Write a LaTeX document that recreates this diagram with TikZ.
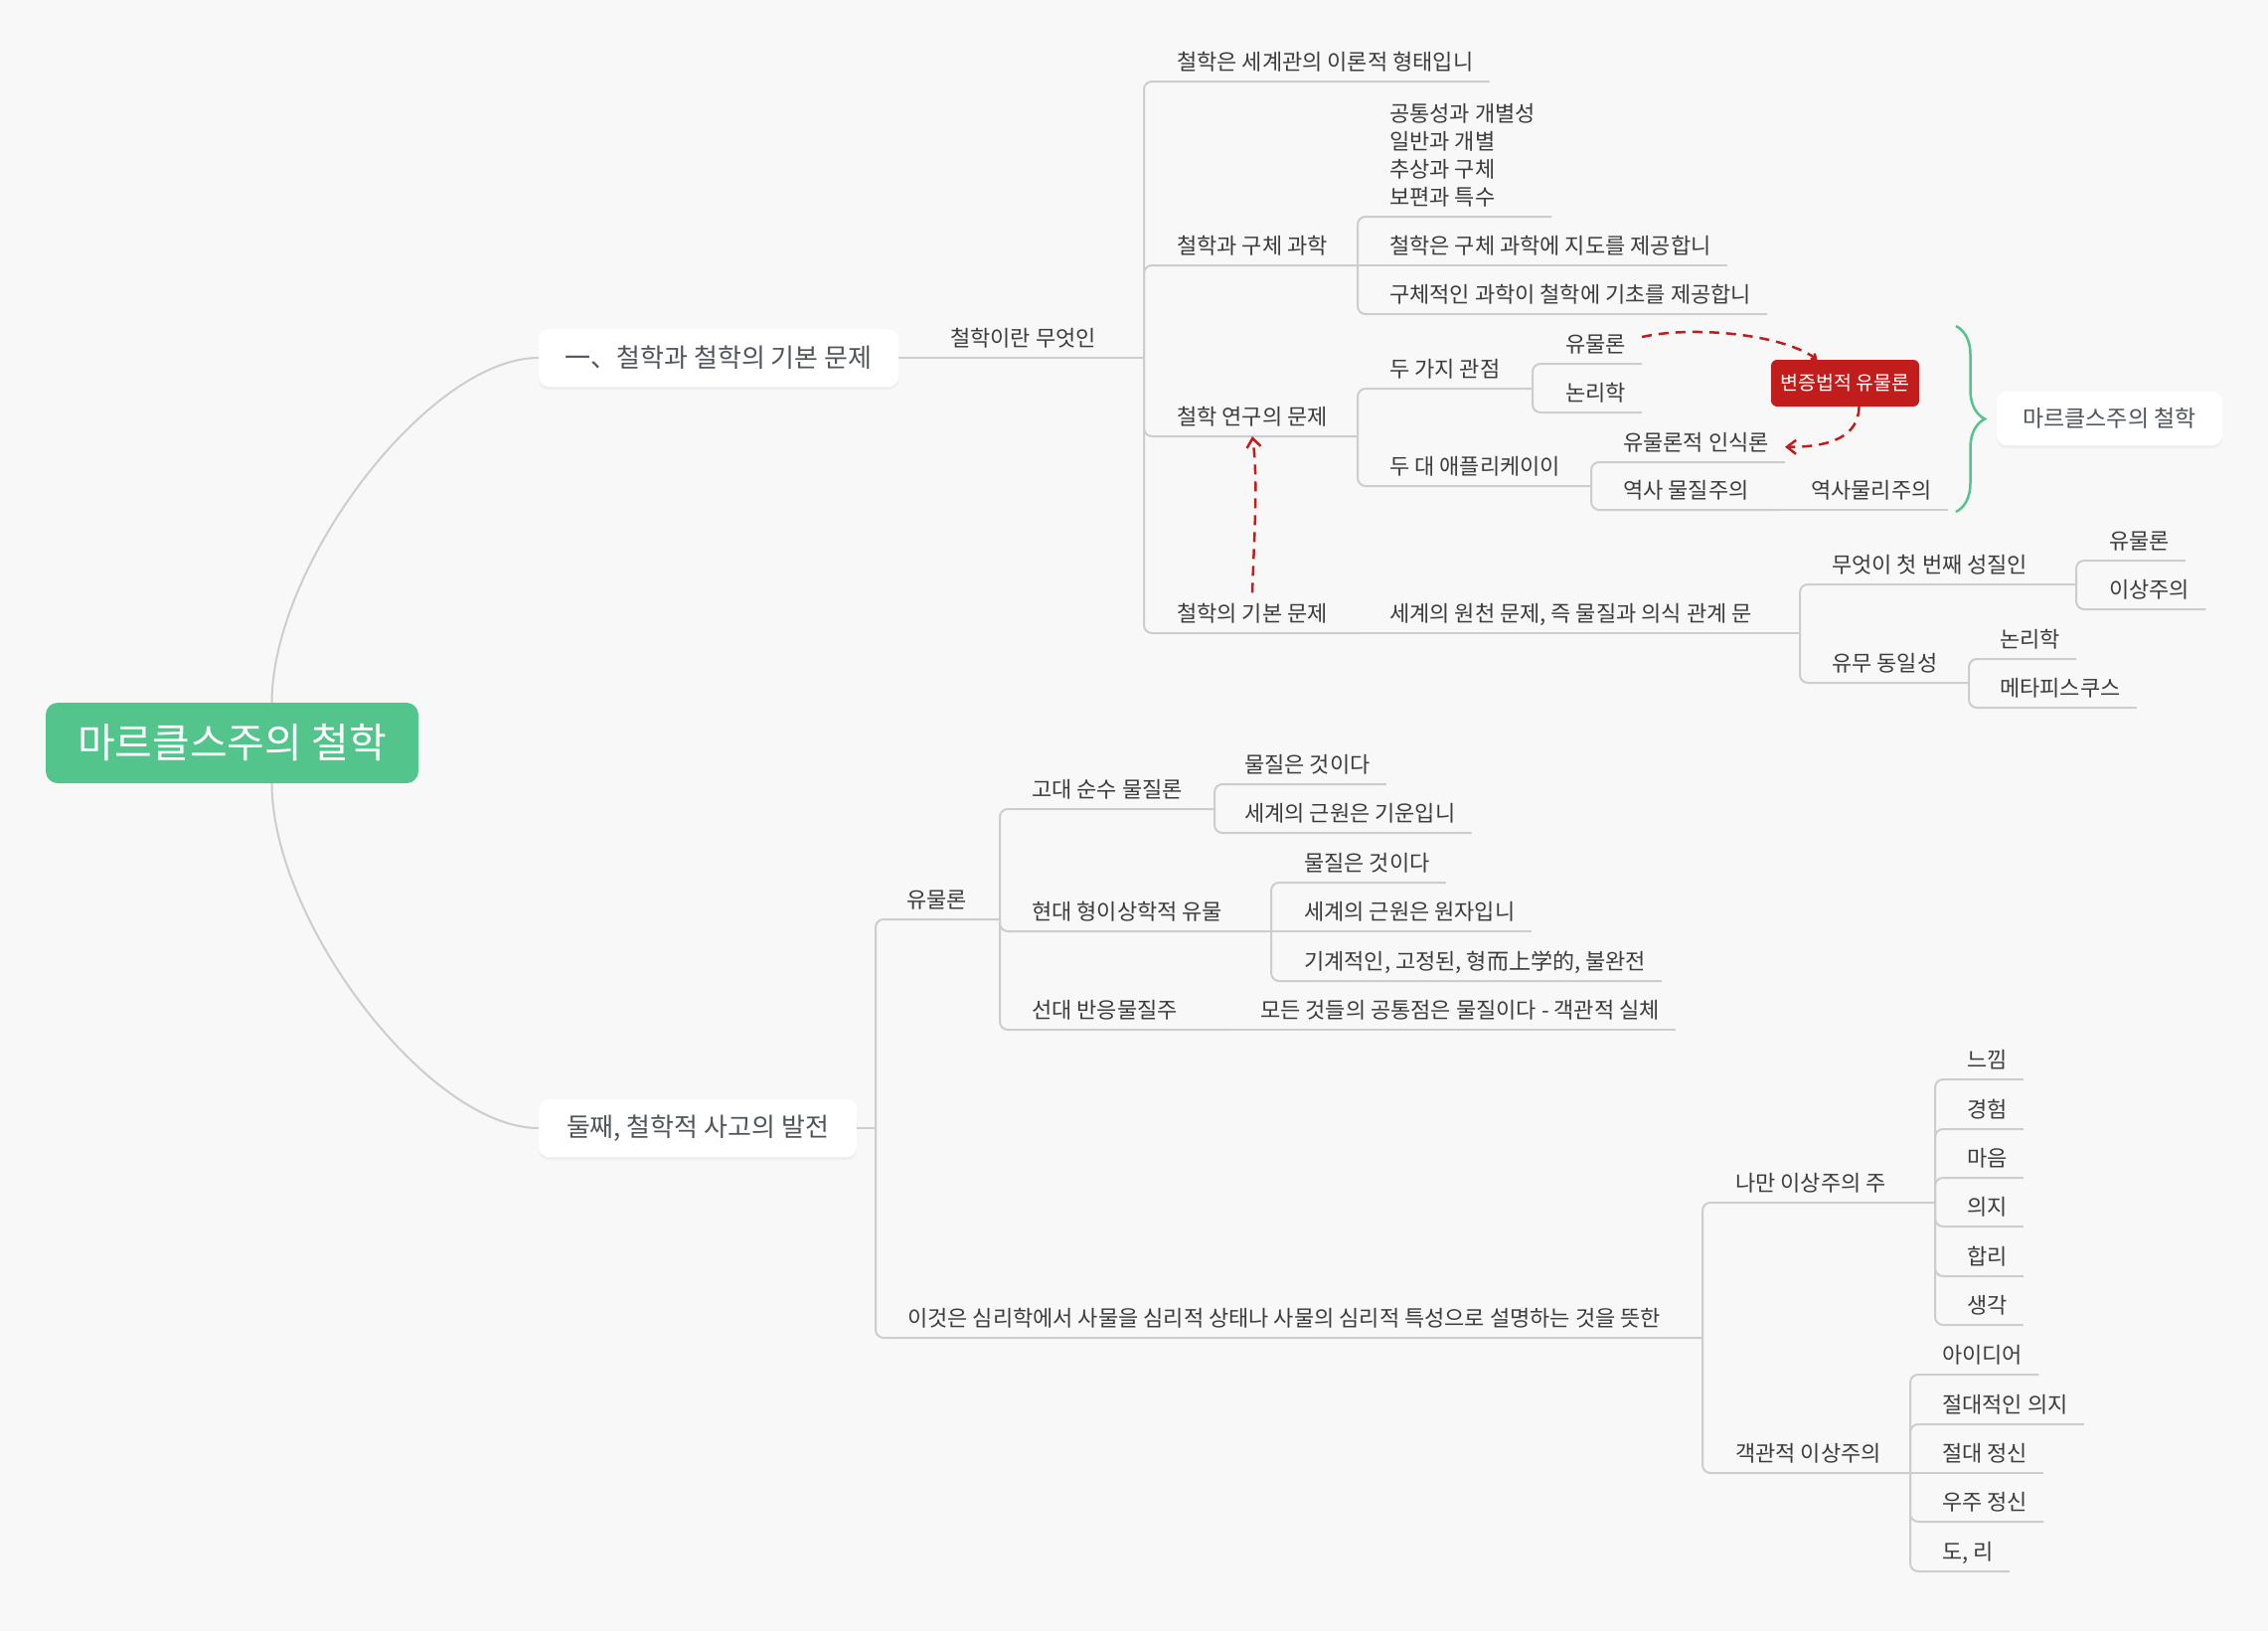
\documentclass[tikz,border=0pt]{standalone}
\usepackage{fontspec}
\setmainfont{Noto Sans CJK KR}
\usetikzlibrary{arrows.meta,decorations.pathreplacing,shadows}
\definecolor{bgc}{HTML}{F8F8F8}
\definecolor{mint}{HTML}{53C58C}
\definecolor{crim}{HTML}{C21D1D}
\definecolor{linec}{HTML}{CDCDCD}
\definecolor{txtc}{HTML}{3C3C3C}
\definecolor{boxtxt}{HTML}{50555B}
\begin{document}
\begin{tikzpicture}[x=1pt,y=-1pt,
	leaf/.style={anchor=south west,inner xsep=16pt,inner ysep=11pt,text depth=0pt,text=txtc,font=\fontsize{22}{28}\selectfont},
	topbox/.style={fill=white,rounded corners=10pt,text=boxtxt,font=\fontsize{26}{30}\selectfont,drop shadow={opacity=0.08,shadow xshift=0pt,shadow yshift=-3pt}},
	branch/.style={draw=linec,line width=2pt,rounded corners=8pt},
	redarrow/.style={draw=crim,line width=2.5pt,dash pattern=on 10pt off 7pt}]
	
	\useasboundingbox (0,0) rectangle (2282,1641);
	\fill[bgc] (0,0) rectangle (2282,1641);
	
	\node[fill=mint,rounded corners=12pt,text=white,minimum width=375pt,minimum height=81pt,font=\fontsize{41}{48}\selectfont] (root) at (233.5,747.5) {마르클스주의 철학};
	\node[topbox,minimum width=362pt,minimum height=58pt] (first) at (723,360) {一、철학과 철학의 기본 문제};
	\node[topbox,minimum width=320pt,minimum height=58pt] (second) at (702,1135) {둘째, 철학적 사고의 발전};
	\node[topbox,minimum width=227pt,minimum height=54pt,font=\fontsize{23}{28}\selectfont] (marx) at (2122.5,421) {마르클스주의 철학};
	\node[fill=crim,text=white,rounded corners=6pt,minimum width=149pt,minimum height=47pt,font=\fontsize{19.5}{24}\selectfont] (dial) at (1856.5,385.5) {변증법적 유물론};
	
	\node[leaf] (what) at (940,360) {철학이란 무엇인};
	\node[leaf] (wv) at (1168,82) {철학은 세계관의 이론적 형태입니};
	\node[leaf] (sci) at (1168,267) {철학과 구체 과학};
	\node[leaf,align=left] (pairs) at (1382,218) {공통성과 개별성\\일반과 개별\\추상과 구체\\보편과 특수};
	\node[leaf] (guide) at (1382,267) {철학은 구체 과학에 지도를 제공합니};
	\node[leaf] (base) at (1382,316) {구체적인 과학이 철학에 기초를 제공합니};
	\node[leaf] (study) at (1168,439) {철학 연구의 문제};
	\node[leaf] (views) at (1382,391) {두 가지 관점};
	\node[leaf] (mat1) at (1559,366) {유물론};
	\node[leaf] (logic1) at (1559,415) {논리학};
	\node[leaf] (apps) at (1382,489) {두 대 애플리케이이};
	\node[leaf] (epist) at (1617,465) {유물론적 인식론};
	\node[leaf] (hist) at (1617,513) {역사 물질주의};
	\node[leaf] (hist2) at (1806,513) {역사물리주의};
	\node[leaf] (basic) at (1168,637) {철학의 기본 문제};
	\node[leaf] (source) at (1382,637) {세계의 원천 문제, 즉 물질과 의식 관계 문};
	\node[leaf] (prime) at (1827,588) {무엇이 첫 번째 성질인};
	\node[leaf] (mat2) at (2106,564) {유물론};
	\node[leaf] (ideal2) at (2106,613) {이상주의};
	\node[leaf] (ident) at (1827,687) {유무 동일성};
	\node[leaf] (logic2) at (1996,663) {논리학};
	\node[leaf] (meta) at (1996,712) {메타피스쿠스};
	
	\node[leaf] (mat) at (896,925) {유물론};
	\node[leaf] (anc) at (1022,814) {고대 순수 물질론};
	\node[leaf] (anc1) at (1236,789) {물질은 것이다};
	\node[leaf] (anc2) at (1236,838) {세계의 근원은 기운입니};
	\node[leaf] (mod) at (1022,937) {현대 형이상학적 유물};
	\node[leaf] (mod1) at (1296,888) {물질은 것이다};
	\node[leaf] (mod2) at (1296,937) {세계의 근원은 원자입니};
	\node[leaf] (mod3) at (1296,987) {기계적인, 고정된, 형而上学的, 불완전};
	\node[leaf] (old) at (1022,1036) {선대 반응물질주};
	\node[leaf] (old1) at (1252,1036) {모든 것들의 공통점은 물질이다 - 객관적 실체};
	\node[leaf] (psy) at (897,1346) {이것은 심리학에서 사물을 심리적 상태나 사물의 심리적 특성으로 설명하는 것을 뜻한};
	\node[leaf] (subj) at (1730,1210) {나만 이상주의 주};
	\node[leaf] (s1) at (1963,1086) {느낌};
	\node[leaf] (s2) at (1963,1136) {경험};
	\node[leaf] (s3) at (1963,1185) {마음};
	\node[leaf] (s4) at (1963,1234) {의지};
	\node[leaf] (s5) at (1963,1284) {합리};
	\node[leaf] (s6) at (1963,1333) {생각};
	\node[leaf] (obj) at (1730,1482) {객관적 이상주의};
	\node[leaf] (o1) at (1938,1383) {아이디어};
	\node[leaf] (o2) at (1938,1433) {절대적인 의지};
	\node[leaf] (o3) at (1938,1482) {절대 정신};
	\node[leaf] (o4) at (1938,1531) {우주 정신};
	\node[leaf] (o5) at (1938,1581) {도, 리};
	
	\coordinate (jwhat) at (1151,360);
	\coordinate (jsci) at (1366,267);
	\coordinate (jstudy) at (1366,439);
	\coordinate (jviews) at (1542,391);
	\coordinate (japps) at (1601,489);
	\coordinate (jhist) at (1790,513);
	\coordinate (jbasic) at (1366,637);
	\coordinate (jsource) at (1811,637);
	\coordinate (jprime) at (2089,588);
	\coordinate (jident) at (1981,687);
	\coordinate (jsec) at (881,1135);
	\coordinate (jmat) at (1006,925);
	\coordinate (janc) at (1222,814);
	\coordinate (jmod) at (1279,937);
	\coordinate (jold) at (1236,1036);
	\coordinate (jpsy) at (1713,1346);
	\coordinate (jsubj) at (1947,1210);
	\coordinate (jobj) at (1922,1482);
	
	\draw[branch] ([xshift=40pt]root.north) .. controls (274,567) and (432,360) .. (first.west);
	\draw[branch] ([xshift=40pt]root.south) .. controls (274,928) and (432,1135) .. (second.west);
	
	\draw[branch] (first.east) -- (jwhat);
	\draw[branch] (jwhat) |- (wv.south east);
	\draw[branch] (jwhat) |- (jsci);
	\draw[branch] (jwhat) |- (jstudy);
	\draw[branch] (jwhat) |- (jbasic);
	\draw[branch] (jsci) |- (pairs.south east);
	\draw[branch] (jsci) -- (guide.south east);
	\draw[branch] (jsci) |- (base.south east);
	\draw[branch] (jstudy) |- (jviews);
	\draw[branch] (jstudy) |- (japps);
	\draw[branch] (jviews) |- (mat1.south east);
	\draw[branch] (jviews) |- (logic1.south east);
	\draw[branch] (japps) |- (epist.south east);
	\draw[branch] (japps) |- (jhist);
	\draw[branch] (jhist) -- (hist2.south east);
	\draw[branch] (jbasic) -- (jsource);
	\draw[branch] (jsource) |- (jprime);
	\draw[branch] (jsource) |- (jident);
	\draw[branch] (jprime) |- (mat2.south east);
	\draw[branch] (jprime) |- (ideal2.south east);
	\draw[branch] (jident) |- (logic2.south east);
	\draw[branch] (jident) |- (meta.south east);
	
	\draw[branch] (second.east) -- (jsec);
	\draw[branch] (jsec) |- (jmat);
	\draw[branch] (jsec) |- (jpsy);
	\draw[branch] (jmat) |- (janc);
	\draw[branch] (jmat) |- (jmod);
	\draw[branch] (jmat) |- (jold);
	\draw[branch] (janc) |- (anc1.south east);
	\draw[branch] (janc) |- (anc2.south east);
	\draw[branch] (jmod) |- (mod1.south east);
	\draw[branch] (jmod) -- (mod2.south east);
	\draw[branch] (jmod) |- (mod3.south east);
	\draw[branch] (jold) -- (old1.south east);
	\draw[branch] (jpsy) |- (jsubj);
	\draw[branch] (jpsy) |- (jobj);
	\draw[branch] (jsubj) |- (s1.south east);
	\draw[branch] (jsubj) |- (s2.south east);
	\draw[branch] (jsubj) |- (s3.south east);
	\draw[branch] (jsubj) |- (s4.south east);
	\draw[branch] (jsubj) |- (s5.south east);
	\draw[branch] (jsubj) |- (s6.south east);
	\draw[branch] (jobj) |- (o1.south east);
	\draw[branch] (jobj) |- (o2.south east);
	\draw[branch] (jobj) -- (o3.south east);
	\draw[branch] (jobj) |- (o4.south east);
	\draw[branch] (jobj) |- (o5.south east);
	
	\draw[mint,line width=2.5pt,decorate,decoration={brace,amplitude=29pt}] (1968,328) -- (1968,515);
	
	\draw[redarrow,-{Straight Barb[length=4pt,width=7pt]}] ([yshift=7pt]mat1.east) .. controls (1700,328) and (1790,335) .. ([xshift=-28pt]dial.north);
	\draw[redarrow,-{Straight Barb[length=9pt,width=14pt]}] ([xshift=14pt]dial.south) .. controls (1870,440) and (1840,450) .. ([yshift=-5pt]epist.east);
	\draw[redarrow,-{Straight Barb[length=9pt,width=14pt]}] (basic.north) .. controls (1262,540) and (1266,480) .. (study.south);
	
\end{tikzpicture}
\end{document}
